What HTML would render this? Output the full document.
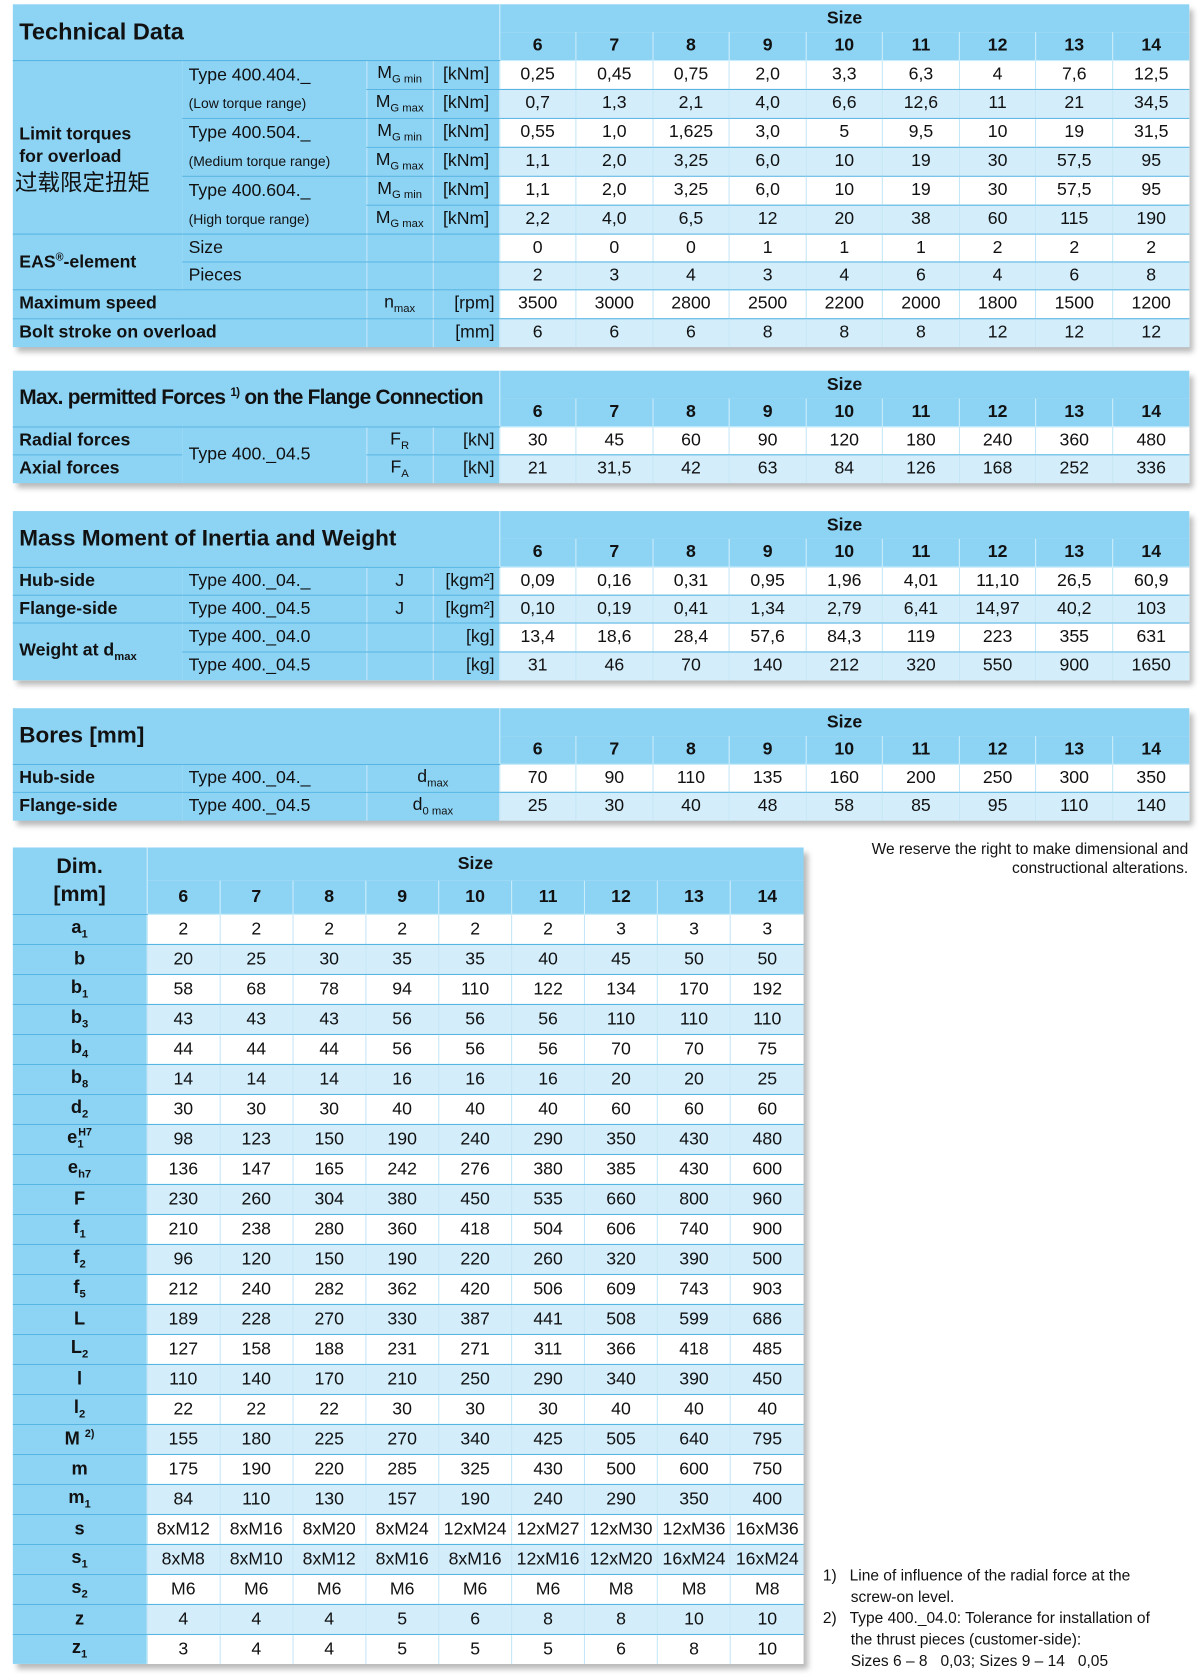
<!DOCTYPE html>
<html><head><meta charset="utf-8">
<style>
html,body{margin:0;padding:0;background:#fff;width:1200px;height:1680px;overflow:hidden}
#w{position:absolute;left:0;top:0;width:1120px;height:1568px;transform:scale(1.0714286);transform-origin:0 0;font-family:"Liberation Sans","Noto Sans CJK SC",sans-serif;color:#111}
table{position:absolute;border-collapse:collapse;table-layout:fixed;box-shadow:4px 5px 5px rgba(0,0,0,.28)}
td{padding:0;font-size:16.5px;text-align:center;white-space:nowrap;overflow:visible;border-bottom:1.5px solid #56b5e3}
.h{background:#8dd3f4}
.hs{background:#8dd3f4;font-weight:bold;font-size:16.5px;border-left:1.5px solid #c9ecfb;border-bottom:none}
.sz{background:#8dd3f4;font-weight:bold;font-size:16.5px;border-bottom:1.5px solid #c9ecfb}
.sr td.sz{border-left:1.5px solid #c9ecfb}
.l{background:#8dd3f4;text-align:left;padding-left:6px}
.b{font-weight:bold}
.c{background:#8dd3f4;border-left:1.5px solid #bfe6f8}
tr.w td.d{background:#fff}
tr.g td.d{background:#d3edfa}
td.d{border-left:1.5px solid #c5e6f6}
.t{font-weight:bold;font-size:21px;text-align:left;padding-left:6px;border-bottom:1.5px solid #56b5e3}
sub{font-size:10.5px;vertical-align:-4px}
.sm{font-size:13px}
.k{background:#8dd3f4;font-weight:bold;font-size:17px}
</style></head><body><div id="w">

<!-- Table 1 -->
<table style="left:12px;top:4px;width:1098px">
<colgroup><col style="width:158px"><col style="width:172px"><col style="width:62px"><col style="width:62px"><col span="9" style="width:71.55px"></colgroup>
<tr style="height:26px"><td class="h t" colspan="4" rowspan="2" style="font-size:22px">Technical Data</td><td class="hs" colspan="9">Size</td></tr>
<tr style="height:26px" class="sr"><td class="sz">6</td><td class="sz">7</td><td class="sz">8</td><td class="sz">9</td><td class="sz">10</td><td class="sz">11</td><td class="sz">12</td><td class="sz">13</td><td class="sz">14</td></tr>
<tr class="w" style="height:26.4px"><td class="l b" rowspan="6" style="line-height:21px;padding-top:28px">Limit torques<br>for overload<br><span style="display:inline-block;font-weight:normal;font-size:21px;line-height:30px;margin-left:-4px">过载限定扭矩</span></td><td class="l" rowspan="2" style="line-height:26px;vertical-align:top">Type 400.404._<br><span class="sm">(Low torque range)</span></td><td class="c">M<sub>G min</sub></td><td class="c">[kNm]</td><td class="d">0,25</td><td class="d">0,45</td><td class="d">0,75</td><td class="d">2,0</td><td class="d">3,3</td><td class="d">6,3</td><td class="d">4</td><td class="d">7,6</td><td class="d">12,5</td></tr>
<tr class="g" style="height:26.4px"><td class="c">M<sub>G max</sub></td><td class="c">[kNm]</td><td class="d">0,7</td><td class="d">1,3</td><td class="d">2,1</td><td class="d">4,0</td><td class="d">6,6</td><td class="d">12,6</td><td class="d">11</td><td class="d">21</td><td class="d">34,5</td></tr>
<tr class="w" style="height:26.4px"><td class="l" rowspan="2" style="line-height:26px;vertical-align:top">Type 400.504._<br><span class="sm">(Medium torque range)</span></td><td class="c">M<sub>G min</sub></td><td class="c">[kNm]</td><td class="d">0,55</td><td class="d">1,0</td><td class="d">1,625</td><td class="d">3,0</td><td class="d">5</td><td class="d">9,5</td><td class="d">10</td><td class="d">19</td><td class="d">31,5</td></tr>
<tr class="g" style="height:26.4px"><td class="c">M<sub>G max</sub></td><td class="c">[kNm]</td><td class="d">1,1</td><td class="d">2,0</td><td class="d">3,25</td><td class="d">6,0</td><td class="d">10</td><td class="d">19</td><td class="d">30</td><td class="d">57,5</td><td class="d">95</td></tr>
<tr class="w" style="height:26.4px"><td class="l" rowspan="2" style="line-height:26px;vertical-align:top">Type 400.604._<br><span class="sm">(High torque range)</span></td><td class="c">M<sub>G min</sub></td><td class="c">[kNm]</td><td class="d">1,1</td><td class="d">2,0</td><td class="d">3,25</td><td class="d">6,0</td><td class="d">10</td><td class="d">19</td><td class="d">30</td><td class="d">57,5</td><td class="d">95</td></tr>
<tr class="g" style="height:26.4px"><td class="c">M<sub>G max</sub></td><td class="c">[kNm]</td><td class="d">2,2</td><td class="d">4,0</td><td class="d">6,5</td><td class="d">12</td><td class="d">20</td><td class="d">38</td><td class="d">60</td><td class="d">115</td><td class="d">190</td></tr>
<tr class="w" style="height:26.4px"><td class="l b" rowspan="2">EAS<sup style="font-size:10px">®</sup>-element</td><td class="l">Size</td><td class="c"></td><td class="c"></td><td class="d">0</td><td class="d">0</td><td class="d">0</td><td class="d">1</td><td class="d">1</td><td class="d">1</td><td class="d">2</td><td class="d">2</td><td class="d">2</td></tr>
<tr class="g" style="height:26.4px"><td class="l">Pieces</td><td class="c"></td><td class="c"></td><td class="d">2</td><td class="d">3</td><td class="d">4</td><td class="d">3</td><td class="d">4</td><td class="d">6</td><td class="d">4</td><td class="d">6</td><td class="d">8</td></tr>
<tr class="w" style="height:26.4px"><td class="l b" colspan="2">Maximum speed</td><td class="c">n<sub>max</sub></td><td class="c" style="text-align:right;padding-right:4px">[rpm]</td><td class="d">3500</td><td class="d">3000</td><td class="d">2800</td><td class="d">2500</td><td class="d">2200</td><td class="d">2000</td><td class="d">1800</td><td class="d">1500</td><td class="d">1200</td></tr>
<tr class="g" style="height:26.4px"><td class="l b" colspan="2" style="border-bottom:none">Bolt stroke on overload</td><td class="c" style="border-bottom:none"></td><td class="c" style="text-align:right;padding-right:4px;border-bottom:none">[mm]</td><td class="d" style="border-bottom:none">6</td><td class="d" style="border-bottom:none">6</td><td class="d" style="border-bottom:none">6</td><td class="d" style="border-bottom:none">8</td><td class="d" style="border-bottom:none">8</td><td class="d" style="border-bottom:none">8</td><td class="d" style="border-bottom:none">12</td><td class="d" style="border-bottom:none">12</td><td class="d" style="border-bottom:none">12</td></tr>
</table>

<!-- Table 2 -->
<table style="left:12px;top:346px;width:1098px">
<colgroup><col style="width:158px"><col style="width:172px"><col style="width:62px"><col style="width:62px"><col span="9" style="width:71.55px"></colgroup>
<tr style="height:26px"><td class="h t" colspan="4" rowspan="2" style="font-size:19.5px;letter-spacing:-0.7px">Max. permitted Forces <sup style="font-size:11px">1)</sup> on the Flange Connection</td><td class="hs" colspan="9">Size</td></tr>
<tr style="height:26px" class="sr"><td class="sz">6</td><td class="sz">7</td><td class="sz">8</td><td class="sz">9</td><td class="sz">10</td><td class="sz">11</td><td class="sz">12</td><td class="sz">13</td><td class="sz">14</td></tr>
<tr class="w" style="height:26.4px"><td class="l b">Radial forces</td><td class="l" rowspan="2" style="border-bottom:none">Type 400._04.5</td><td class="c">F<sub>R</sub></td><td class="c" style="text-align:right;padding-right:4px">[kN]</td><td class="d">30</td><td class="d">45</td><td class="d">60</td><td class="d">90</td><td class="d">120</td><td class="d">180</td><td class="d">240</td><td class="d">360</td><td class="d">480</td></tr>
<tr class="g" style="height:26.4px"><td class="l b" style="border-bottom:none">Axial forces</td><td class="c" style="border-bottom:none">F<sub>A</sub></td><td class="c" style="text-align:right;padding-right:4px;border-bottom:none">[kN]</td><td class="d" style="border-bottom:none">21</td><td class="d" style="border-bottom:none">31,5</td><td class="d" style="border-bottom:none">42</td><td class="d" style="border-bottom:none">63</td><td class="d" style="border-bottom:none">84</td><td class="d" style="border-bottom:none">126</td><td class="d" style="border-bottom:none">168</td><td class="d" style="border-bottom:none">252</td><td class="d" style="border-bottom:none">336</td></tr>
</table>

<!-- Table 3 -->
<table style="left:12px;top:477px;width:1098px">
<colgroup><col style="width:158px"><col style="width:172px"><col style="width:62px"><col style="width:62px"><col span="9" style="width:71.55px"></colgroup>
<tr style="height:26px"><td class="h t" colspan="4" rowspan="2">Mass Moment of Inertia and Weight</td><td class="hs" colspan="9">Size</td></tr>
<tr style="height:26px" class="sr"><td class="sz">6</td><td class="sz">7</td><td class="sz">8</td><td class="sz">9</td><td class="sz">10</td><td class="sz">11</td><td class="sz">12</td><td class="sz">13</td><td class="sz">14</td></tr>
<tr class="w" style="height:26.4px"><td class="l b">Hub-side</td><td class="l">Type 400._04._</td><td class="c">J</td><td class="c" style="text-align:right;padding-right:4px">[kgm²]</td><td class="d">0,09</td><td class="d">0,16</td><td class="d">0,31</td><td class="d">0,95</td><td class="d">1,96</td><td class="d">4,01</td><td class="d">11,10</td><td class="d">26,5</td><td class="d">60,9</td></tr>
<tr class="g" style="height:26.4px"><td class="l b">Flange-side</td><td class="l">Type 400._04.5</td><td class="c">J</td><td class="c" style="text-align:right;padding-right:4px">[kgm²]</td><td class="d">0,10</td><td class="d">0,19</td><td class="d">0,41</td><td class="d">1,34</td><td class="d">2,79</td><td class="d">6,41</td><td class="d">14,97</td><td class="d">40,2</td><td class="d">103</td></tr>
<tr class="w" style="height:26.4px"><td class="l b" rowspan="2" style="border-bottom:none">Weight at d<sub>max</sub></td><td class="l">Type 400._04.0</td><td class="c"></td><td class="c" style="text-align:right;padding-right:4px">[kg]</td><td class="d">13,4</td><td class="d">18,6</td><td class="d">28,4</td><td class="d">57,6</td><td class="d">84,3</td><td class="d">119</td><td class="d">223</td><td class="d">355</td><td class="d">631</td></tr>
<tr class="g" style="height:26.4px"><td class="l" style="border-bottom:none">Type 400._04.5</td><td class="c" style="border-bottom:none"></td><td class="c" style="text-align:right;padding-right:4px;border-bottom:none">[kg]</td><td class="d" style="border-bottom:none">31</td><td class="d" style="border-bottom:none">46</td><td class="d" style="border-bottom:none">70</td><td class="d" style="border-bottom:none">140</td><td class="d" style="border-bottom:none">212</td><td class="d" style="border-bottom:none">320</td><td class="d" style="border-bottom:none">550</td><td class="d" style="border-bottom:none">900</td><td class="d" style="border-bottom:none">1650</td></tr>
</table>

<!-- Table 4 -->
<table style="left:12px;top:661px;width:1098px">
<colgroup><col style="width:158px"><col style="width:172px"><col style="width:62px"><col style="width:62px"><col span="9" style="width:71.55px"></colgroup>
<tr style="height:26px"><td class="h t" colspan="4" rowspan="2">Bores [mm]</td><td class="hs" colspan="9">Size</td></tr>
<tr style="height:26px" class="sr"><td class="sz">6</td><td class="sz">7</td><td class="sz">8</td><td class="sz">9</td><td class="sz">10</td><td class="sz">11</td><td class="sz">12</td><td class="sz">13</td><td class="sz">14</td></tr>
<tr class="w" style="height:26.4px"><td class="l b">Hub-side</td><td class="l">Type 400._04._</td><td class="c" colspan="2">d<sub>max</sub></td><td class="d">70</td><td class="d">90</td><td class="d">110</td><td class="d">135</td><td class="d">160</td><td class="d">200</td><td class="d">250</td><td class="d">300</td><td class="d">350</td></tr>
<tr class="g" style="height:26.4px"><td class="l b" style="border-bottom:none">Flange-side</td><td class="l" style="border-bottom:none">Type 400._04.5</td><td class="c" colspan="2" style="border-bottom:none">d<sub>0 max</sub></td><td class="d" style="border-bottom:none">25</td><td class="d" style="border-bottom:none">30</td><td class="d" style="border-bottom:none">40</td><td class="d" style="border-bottom:none">48</td><td class="d" style="border-bottom:none">58</td><td class="d" style="border-bottom:none">85</td><td class="d" style="border-bottom:none">95</td><td class="d" style="border-bottom:none">110</td><td class="d" style="border-bottom:none">140</td></tr>
</table>

<div style="position:absolute;left:760px;top:784px;width:349px;text-align:right;font-size:14.5px;line-height:18px">We reserve the right to make dimensional and constructional alterations.</div>

<!-- Table 5 -->
<table style="left:12px;top:791px;width:738px">
<colgroup><col style="width:125px"><col span="9" style="width:68.1px"></colgroup>
<tr style="height:31px"><td class="k" rowspan="2" style="font-size:20px;line-height:26px;border-bottom:1.5px solid #56b5e3;border-right:1.5px solid #c9ecfb">Dim.<br>[mm]</td><td class="hs" colspan="9">Size</td></tr>
<tr style="height:31px" class="sr"><td class="sz">6</td><td class="sz">7</td><td class="sz">8</td><td class="sz">9</td><td class="sz">10</td><td class="sz">11</td><td class="sz">12</td><td class="sz">13</td><td class="sz">14</td></tr>
<tr class="w" style="height:28px"><td class="k">a<sub>1</sub></td><td class="d">2</td><td class="d">2</td><td class="d">2</td><td class="d">2</td><td class="d">2</td><td class="d">2</td><td class="d">3</td><td class="d">3</td><td class="d">3</td></tr>
<tr class="g" style="height:28px"><td class="k">b</td><td class="d">20</td><td class="d">25</td><td class="d">30</td><td class="d">35</td><td class="d">35</td><td class="d">40</td><td class="d">45</td><td class="d">50</td><td class="d">50</td></tr>
<tr class="w" style="height:28px"><td class="k">b<sub>1</sub></td><td class="d">58</td><td class="d">68</td><td class="d">78</td><td class="d">94</td><td class="d">110</td><td class="d">122</td><td class="d">134</td><td class="d">170</td><td class="d">192</td></tr>
<tr class="g" style="height:28px"><td class="k">b<sub>3</sub></td><td class="d">43</td><td class="d">43</td><td class="d">43</td><td class="d">56</td><td class="d">56</td><td class="d">56</td><td class="d">110</td><td class="d">110</td><td class="d">110</td></tr>
<tr class="w" style="height:28px"><td class="k">b<sub>4</sub></td><td class="d">44</td><td class="d">44</td><td class="d">44</td><td class="d">56</td><td class="d">56</td><td class="d">56</td><td class="d">70</td><td class="d">70</td><td class="d">75</td></tr>
<tr class="g" style="height:28px"><td class="k">b<sub>8</sub></td><td class="d">14</td><td class="d">14</td><td class="d">14</td><td class="d">16</td><td class="d">16</td><td class="d">16</td><td class="d">20</td><td class="d">20</td><td class="d">25</td></tr>
<tr class="w" style="height:28px"><td class="k">d<sub>2</sub></td><td class="d">30</td><td class="d">30</td><td class="d">30</td><td class="d">40</td><td class="d">40</td><td class="d">40</td><td class="d">60</td><td class="d">60</td><td class="d">60</td></tr>
<tr class="g" style="height:28px"><td class="k">e<sub>1</sub><sup style="font-size:10px;margin-left:-5px">H7</sup></td><td class="d">98</td><td class="d">123</td><td class="d">150</td><td class="d">190</td><td class="d">240</td><td class="d">290</td><td class="d">350</td><td class="d">430</td><td class="d">480</td></tr>
<tr class="w" style="height:28px"><td class="k">e<sub>h7</sub></td><td class="d">136</td><td class="d">147</td><td class="d">165</td><td class="d">242</td><td class="d">276</td><td class="d">380</td><td class="d">385</td><td class="d">430</td><td class="d">600</td></tr>
<tr class="g" style="height:28px"><td class="k">F</td><td class="d">230</td><td class="d">260</td><td class="d">304</td><td class="d">380</td><td class="d">450</td><td class="d">535</td><td class="d">660</td><td class="d">800</td><td class="d">960</td></tr>
<tr class="w" style="height:28px"><td class="k">f<sub>1</sub></td><td class="d">210</td><td class="d">238</td><td class="d">280</td><td class="d">360</td><td class="d">418</td><td class="d">504</td><td class="d">606</td><td class="d">740</td><td class="d">900</td></tr>
<tr class="g" style="height:28px"><td class="k">f<sub>2</sub></td><td class="d">96</td><td class="d">120</td><td class="d">150</td><td class="d">190</td><td class="d">220</td><td class="d">260</td><td class="d">320</td><td class="d">390</td><td class="d">500</td></tr>
<tr class="w" style="height:28px"><td class="k">f<sub>5</sub></td><td class="d">212</td><td class="d">240</td><td class="d">282</td><td class="d">362</td><td class="d">420</td><td class="d">506</td><td class="d">609</td><td class="d">743</td><td class="d">903</td></tr>
<tr class="g" style="height:28px"><td class="k">L</td><td class="d">189</td><td class="d">228</td><td class="d">270</td><td class="d">330</td><td class="d">387</td><td class="d">441</td><td class="d">508</td><td class="d">599</td><td class="d">686</td></tr>
<tr class="w" style="height:28px"><td class="k">L<sub>2</sub></td><td class="d">127</td><td class="d">158</td><td class="d">188</td><td class="d">231</td><td class="d">271</td><td class="d">311</td><td class="d">366</td><td class="d">418</td><td class="d">485</td></tr>
<tr class="g" style="height:28px"><td class="k">l</td><td class="d">110</td><td class="d">140</td><td class="d">170</td><td class="d">210</td><td class="d">250</td><td class="d">290</td><td class="d">340</td><td class="d">390</td><td class="d">450</td></tr>
<tr class="w" style="height:28px"><td class="k">l<sub>2</sub></td><td class="d">22</td><td class="d">22</td><td class="d">22</td><td class="d">30</td><td class="d">30</td><td class="d">30</td><td class="d">40</td><td class="d">40</td><td class="d">40</td></tr>
<tr class="g" style="height:28px"><td class="k">M <sup style="font-size:10px">2)</sup></td><td class="d">155</td><td class="d">180</td><td class="d">225</td><td class="d">270</td><td class="d">340</td><td class="d">425</td><td class="d">505</td><td class="d">640</td><td class="d">795</td></tr>
<tr class="w" style="height:28px"><td class="k">m</td><td class="d">175</td><td class="d">190</td><td class="d">220</td><td class="d">285</td><td class="d">325</td><td class="d">430</td><td class="d">500</td><td class="d">600</td><td class="d">750</td></tr>
<tr class="g" style="height:28px"><td class="k">m<sub>1</sub></td><td class="d">84</td><td class="d">110</td><td class="d">130</td><td class="d">157</td><td class="d">190</td><td class="d">240</td><td class="d">290</td><td class="d">350</td><td class="d">400</td></tr>
<tr class="w" style="height:28px"><td class="k">s</td><td class="d">8xM12</td><td class="d">8xM16</td><td class="d">8xM20</td><td class="d">8xM24</td><td class="d">12xM24</td><td class="d">12xM27</td><td class="d">12xM30</td><td class="d">12xM36</td><td class="d">16xM36</td></tr>
<tr class="g" style="height:28px"><td class="k">s<sub>1</sub></td><td class="d">8xM8</td><td class="d">8xM10</td><td class="d">8xM12</td><td class="d">8xM16</td><td class="d">8xM16</td><td class="d">12xM16</td><td class="d">12xM20</td><td class="d">16xM24</td><td class="d">16xM24</td></tr>
<tr class="w" style="height:28px"><td class="k">s<sub>2</sub></td><td class="d">M6</td><td class="d">M6</td><td class="d">M6</td><td class="d">M6</td><td class="d">M6</td><td class="d">M6</td><td class="d">M8</td><td class="d">M8</td><td class="d">M8</td></tr>
<tr class="g" style="height:28px"><td class="k">z</td><td class="d">4</td><td class="d">4</td><td class="d">4</td><td class="d">5</td><td class="d">6</td><td class="d">8</td><td class="d">8</td><td class="d">10</td><td class="d">10</td></tr>
<tr class="w" style="height:28px"><td class="k" style="border-bottom:none">z<sub>1</sub></td><td class="d" style="border-bottom:none">3</td><td class="d" style="border-bottom:none">4</td><td class="d" style="border-bottom:none">4</td><td class="d" style="border-bottom:none">5</td><td class="d" style="border-bottom:none">5</td><td class="d" style="border-bottom:none">5</td><td class="d" style="border-bottom:none">6</td><td class="d" style="border-bottom:none">8</td><td class="d" style="border-bottom:none">10</td></tr>
</table>

<div style="position:absolute;left:768px;top:1461px;width:318px;font-size:14.5px;line-height:20px">
<div style="padding-left:26px;text-indent:-26px">1)&nbsp;&nbsp;&nbsp;Line of influence of the radial force at the screw-on level.</div>
<div style="padding-left:26px;text-indent:-26px">2)&nbsp;&nbsp;&nbsp;Type 400._04.0: Tolerance for installation of the thrust pieces (customer-side):<br>Sizes 6 – 8&nbsp;&nbsp; 0,03; Sizes 9 – 14&nbsp;&nbsp; 0,05</div>
</div>

</div></body></html>
